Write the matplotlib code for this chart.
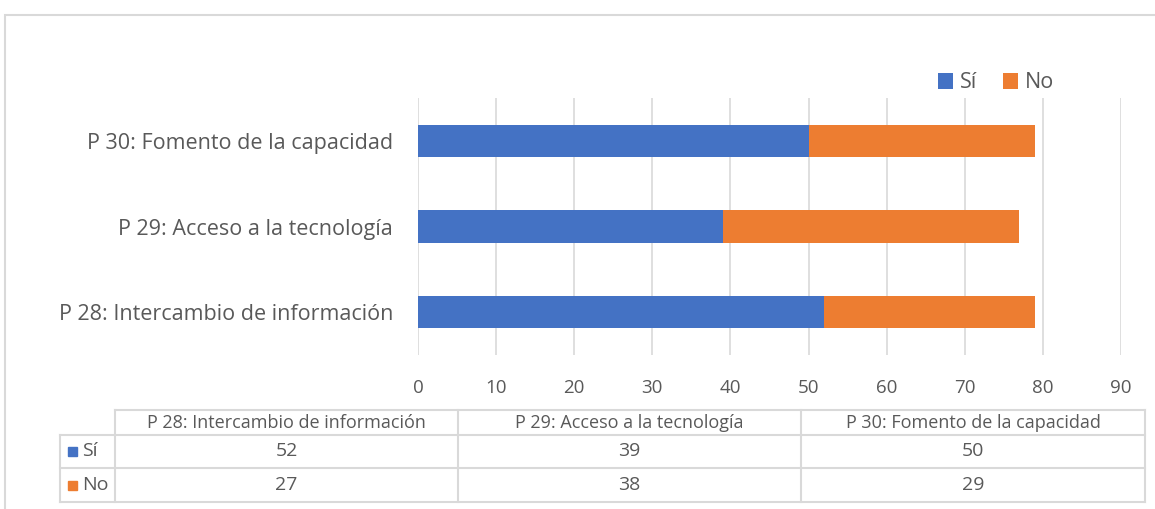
import matplotlib.pyplot as plt
from matplotlib.patches import Rectangle

categories = ['P 28: Intercambio de información', 'P 29: Acceso a la tecnología', 'P 30: Fomento de la capacidad']
si = [52, 39, 50]
no = [27, 38, 29]
series_names = ['Sí', 'No']
xticks = [0, 10, 20, 30, 40, 50, 60, 70, 80, 90]

BLUE = '#4472C4'
ORANGE = '#ED7D31'
TXT = '#595959'
GRID = '#D9D9D9'

plt.rcParams['font.family'] = ['Open Sans', 'DejaVu Sans']

W, H = 1155, 509
fig = plt.figure(figsize=(W / 100, H / 100), dpi=100)

def px(x0, y0, x1, y1):
    # pixel box (top-left origin) -> figure fraction rect
    return [x0 / W, 1 - y1 / H, (x1 - x0) / W, (y1 - y0) / H]

# outer chart border
fig.patches.append(Rectangle((5 / W, -0.1), 1.2, 1 - 15 / H + 0.1, transform=fig.transFigure,
                             fill=False, edgecolor=GRID, linewidth=1.5))

ax = fig.add_axes(px(418, 98, 1121, 355))
y = list(range(len(categories)))
ax.barh(y, si, height=0.38, color=BLUE, label=series_names[0])
ax.barh(y, no, left=si, height=0.38, color=ORANGE, label=series_names[1])
ax.set_xlim(0, 90)
ax.set_ylim(-0.5, 2.5)
ax.set_xticks(xticks)
ax.set_yticks(y)
ax.set_yticklabels(categories)
ax.xaxis.grid(True, color=GRID, linewidth=1.2)
ax.set_axisbelow(True)
for s in ax.spines.values():
    s.set_visible(False)
ax.tick_params(axis='both', length=0, colors=TXT)
ax.tick_params(axis='x', pad=17, labelsize=13.5)
ax.tick_params(axis='y', pad=18, labelsize=15.5)

leg = fig.legend(loc='center', bbox_to_anchor=(996 / W, 1 - 83 / H), ncol=2, frameon=False,
                 handlelength=0.7, handleheight=0.7, handletextpad=0.3, columnspacing=1.2,
                 fontsize=15.5)
for t in leg.get_texts():
    t.set_color(TXT)

# data table
tab = fig.add_axes([0, 0, 1, 1])
tab.set_xlim(0, W)
tab.set_ylim(H, 0)
tab.axis('off')
cols = [115, 458, 801, 1145]
rows = [410, 435, 468, 502]
lc = dict(color=GRID, linewidth=1.5)
tab.plot([cols[0], cols[-1]], [rows[0], rows[0]], **lc)
for r in rows[1:]:
    tab.plot([60, cols[-1]], [r, r], **lc)
for c in cols:
    tab.plot([c, c], [rows[0], rows[-1]], **lc)
tab.plot([60, 60], [rows[1], rows[-1]], **lc)
for i, cat in enumerate(categories):
    cx = (cols[i] + cols[i + 1]) / 2
    tab.text(cx, (rows[0] + rows[1]) / 2, cat, ha='center', va='center', color=TXT, fontsize=13)
    tab.text(cx, (rows[1] + rows[2]) / 2, str(si[i]), ha='center', va='center', color=TXT, fontsize=14)
    tab.text(cx, (rows[2] + rows[3]) / 2, str(no[i]), ha='center', va='center', color=TXT, fontsize=14)
for j, (name, col) in enumerate(zip(series_names, [BLUE, ORANGE])):
    cy = (rows[j + 1] + rows[j + 2]) / 2
    tab.add_patch(Rectangle((68, cy - 4.5), 9, 9, color=col))
    tab.text(82, cy, name, ha='left', va='center', color=TXT, fontsize=14)

fig.savefig('out.png', dpi=100)
